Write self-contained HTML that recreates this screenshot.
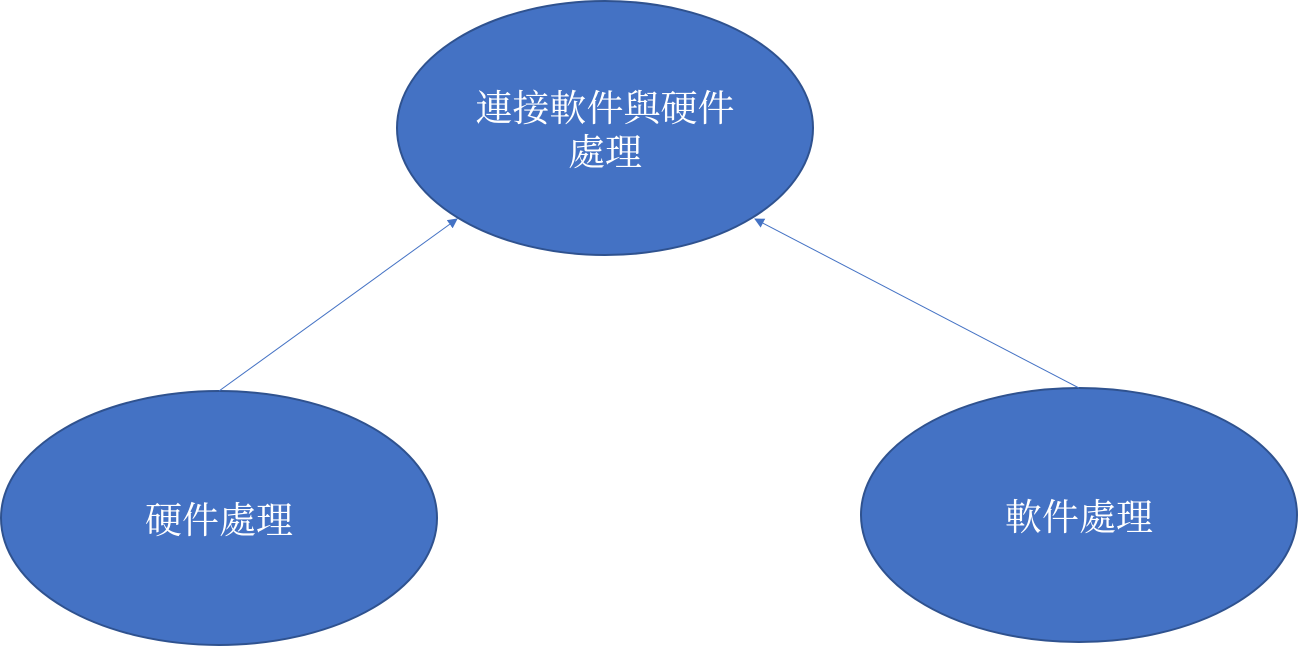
<!DOCTYPE html>
<html>
<head>
<meta charset="utf-8">
<style>
html,body{margin:0;padding:0;background:#fff;}
svg{display:block;}
text{font-family:"Liberation Serif","Noto Serif CJK SC","Noto Sans CJK TC",serif;fill:#fff;font-size:37px;}
</style>
</head>
<body>
<svg width="1299" height="647" viewBox="0 0 1299 647" xmlns="http://www.w3.org/2000/svg">
<defs>
<marker id="a" markerWidth="10" markerHeight="10" refX="9" refY="5" orient="auto" markerUnits="userSpaceOnUse">
<path d="M0,0 L10,5 L0,10 z" fill="#4472C4"/>
</marker>
</defs>
<ellipse cx="605" cy="128" rx="208" ry="127" fill="#4472C4" stroke="#2F528F" stroke-width="2"/>
<ellipse cx="219" cy="518" rx="218" ry="127" fill="#4472C4" stroke="#2F528F" stroke-width="2"/>
<ellipse cx="1079" cy="515" rx="218" ry="127" fill="#4472C4" stroke="#2F528F" stroke-width="2"/>
<line x1="219" y1="391" x2="457" y2="219" stroke="#4472C4" stroke-width="1" marker-end="url(#a)"/>
<line x1="1079" y1="388" x2="755" y2="219" stroke="#4472C4" stroke-width="1" marker-end="url(#a)"/>
<text x="605" y="121" text-anchor="middle">連接軟件與硬件</text>
<text x="605" y="165" text-anchor="middle">處理</text>
<text x="219" y="533" text-anchor="middle">硬件處理</text>
<text x="1079" y="530" text-anchor="middle">軟件處理</text>
</svg>
</body>
</html>
